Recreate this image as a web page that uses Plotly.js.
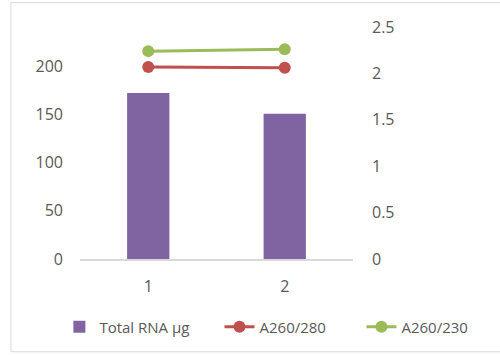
<!DOCTYPE html>
<html><head><meta charset="utf-8">
<script src="https://cdn.plot.ly/plotly-3.0.1.min.js"></script>
<style>body{margin:0;padding:0;background:#fff}#c{width:500px;height:355px}</style>
</head><body><div id="c"></div>
<script>
const categories = ['1', '2'];
const totalRNA = [172, 150.5];
const a260_280 = [2.07, 2.06];
const a260_230 = [2.24, 2.26];
const leftTicks = [0, 50, 100, 150, 200];
const rightTicks = [0, 0.5, 1, 1.5, 2, 2.5];

const tickFont = {family: 'Open Sans, Noto Sans, sans-serif', size: 16, color: '#595959'};
const legFont = {family: 'Open Sans, Noto Sans, sans-serif', size: 15, color: '#595959'};
const data = [
  {type: 'bar', x: categories, y: totalRNA, name: 'Total RNA µg', marker: {color: '#8064A2'}, width: 0.31, legend: 'legend'},
  {type: 'scatter', mode: 'lines+markers', x: categories, y: a260_280, name: 'A260/280', yaxis: 'y2',
   line: {color: '#C0504D', width: 3}, marker: {color: '#C0504D', size: 12}, legend: 'legend2'},
  {type: 'scatter', mode: 'lines+markers', x: categories, y: a260_230, name: 'A260/230', yaxis: 'y2',
   line: {color: '#9BBB59', width: 3}, marker: {color: '#9BBB59', size: 12}, legend: 'legend3'}
];
const legBase = {orientation: 'h', xanchor: 'left', y: -0.293, yanchor: 'middle', font: legFont, bgcolor: 'rgba(0,0,0,0)'};
const layout = {
  width: 500, height: 355,
  margin: {l: 80, r: 147, t: 27, b: 96},
  paper_bgcolor: '#fff', plot_bgcolor: '#fff',
  font: tickFont,
  showlegend: true,
  legend: Object.assign({}, legBase, {x: -0.0755}),
  legend2: Object.assign({}, legBase, {x: 0.511}),
  legend3: Object.assign({}, legBase, {x: 1.031}),
  xaxis: {type: 'category', range: [-0.5, 1.5], showline: true, linecolor: '#d9d9d9', linewidth: 1.5,
          ticks: '', tickfont: tickFont, showgrid: false, zeroline: false, ticklabelstandoff: 12},
  yaxis: {range: [0, 240.4], tickvals: leftTicks, ticktext: leftTicks.map(String), showgrid: false, zeroline: false,
          showline: false, ticks: '', ticklabelstandoff: 16, tickfont: tickFont},
  yaxis2: {range: [0, 2.5], overlaying: 'y', side: 'right', tickvals: rightTicks, ticktext: rightTicks.map(String),
           showgrid: false, zeroline: false, showline: false, ticks: '', tickfont: tickFont, ticklabelstandoff: 18},
  shapes: [{type: 'rect', xref: 'paper', yref: 'paper', x0: -0.253, x1: 1.6, y0: -0.4, y1: 1.105,
            line: {color: '#d9d9d9', width: 1}}]
};
Plotly.newPlot('c', data, layout, {displayModeBar: false, staticPlot: true});
</script></body></html>
